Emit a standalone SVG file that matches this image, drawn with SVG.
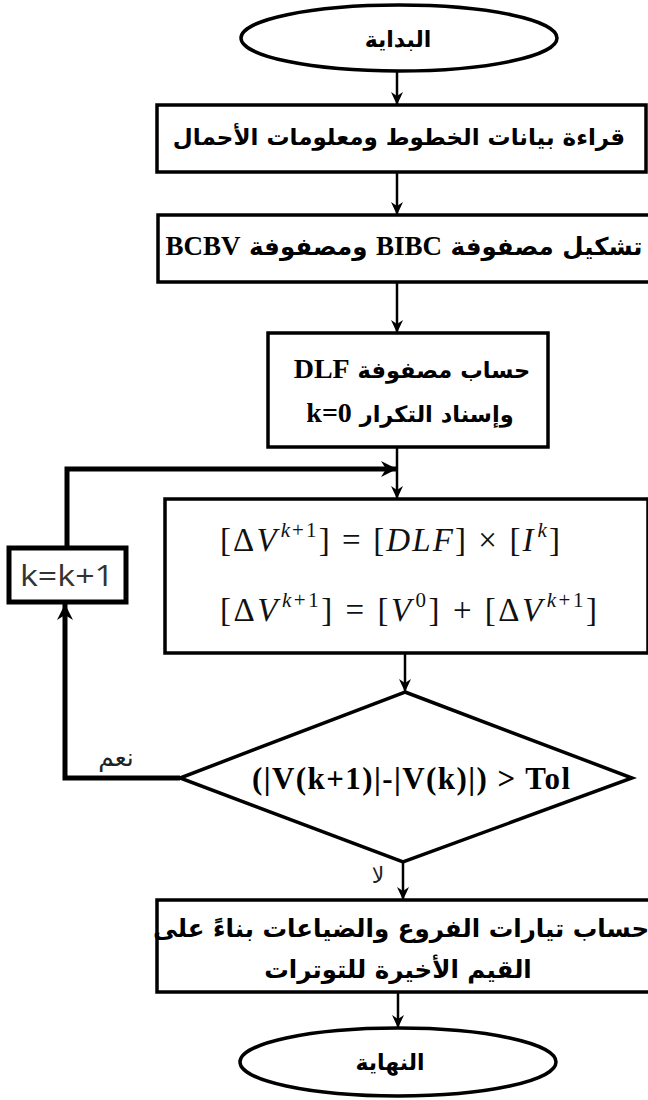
<svg xmlns="http://www.w3.org/2000/svg" width="648" height="1100" viewBox="0 0 648 1100">
<defs>
<style>
.shape{fill:#fff;stroke:#000;stroke-width:3.5}
.thick{fill:#fff;stroke:#000;stroke-width:5}
.conn{fill:none;stroke:#000;stroke-width:2.5}
.loop{fill:none;stroke:#000;stroke-width:5}
.ar{font-family:"DejaVu Sans",sans-serif;font-weight:bold;fill:#000}
.lat{font-family:"Liberation Serif",serif;font-weight:bold}
.eq{font-family:"Liberation Serif","DejaVu Serif",serif;fill:#111}
.it{font-style:italic}
.lbl{font-family:"DejaVu Sans",sans-serif;fill:#222}
</style>
<marker id="ah" markerUnits="userSpaceOnUse" markerWidth="14" markerHeight="14" viewBox="0 0 14 14" refX="13" refY="7" orient="auto">
<path d="M0,1 L13,7 L0,13 L4,7 Z" fill="#000"/>
</marker>
<marker id="ahb" markerUnits="userSpaceOnUse" markerWidth="20" markerHeight="20" viewBox="0 0 20 20" refX="18" refY="10" orient="auto">
<path d="M2,2 L18,10 L2,18 L7,10 Z" fill="#000"/>
</marker>
</defs>
<g id="connectors">
<line class="conn" x1="397" y1="72" x2="397" y2="105" marker-end="url(#ah)"/>
<line class="conn" x1="397" y1="172" x2="397" y2="215" marker-end="url(#ah)"/>
<line class="conn" x1="397" y1="282" x2="397" y2="333" marker-end="url(#ah)"/>
<line class="conn" x1="397" y1="447" x2="397" y2="499" marker-end="url(#ah)"/>
<polyline class="loop" points="67,547 67,469 397,469" marker-end="url(#ahb)"/>
<line class="conn" x1="405" y1="653" x2="405" y2="692" marker-end="url(#ah)"/>
<polyline class="loop" points="180,778 65,778 65,604" marker-end="url(#ahb)"/>
<line class="conn" x1="403" y1="862" x2="403" y2="900" marker-end="url(#ah)"/>
<line class="conn" x1="398" y1="992" x2="398" y2="1028" marker-end="url(#ah)"/>
<text class="lbl" x="116" y="766" text-anchor="middle" direction="rtl" style="font-size:25px">نعم</text>
<text class="lbl" x="378" y="883" text-anchor="middle" direction="rtl" style="font-size:22px">لا</text>
</g>
<g id="start">
<ellipse class="shape" cx="399" cy="38" rx="158" ry="33"/>
<text class="ar" x="398" y="47" text-anchor="middle" direction="rtl" style="font-size:22px">البداية</text>
</g>
<g id="read">
<rect class="shape" x="157" y="105" width="489" height="67"/>
<text class="ar" x="399" y="145" text-anchor="middle" direction="rtl" style="font-size:23px">قراءة بيانات الخطوط ومعلومات الأحمال</text>
</g>
<g id="matrices">
<rect class="shape" x="158" y="215" width="494" height="67"/>
<text class="ar" x="404" y="255" text-anchor="middle" direction="rtl" style="font-size:24.5px">تشكيل مصفوفة <tspan class="lat" style="font-size:27px">BIBC</tspan> ومصفوفة <tspan class="lat" style="font-size:27px">BCBV</tspan></text>
</g>
<g id="dlf">
<rect class="shape" x="268" y="333" width="280" height="114"/>
<text class="ar" x="412" y="378" text-anchor="middle" direction="rtl" style="font-size:22.5px">حساب مصفوفة <tspan class="lat" style="font-size:28px">DLF</tspan></text>
<text class="ar" x="410" y="422" text-anchor="middle" direction="rtl" style="font-size:22.5px">وإسناد التكرار <tspan class="lat" style="font-size:28px">k=0</tspan></text>
</g>
<g id="kinc">
<rect class="thick" x="9" y="548" width="117" height="54"/>
<text x="67" y="586" text-anchor="middle" font-family="'Open Sans',sans-serif" style="font-size:30px" fill="#333" textLength="94" lengthAdjust="spacingAndGlyphs">k=k+1</text>
</g>
<g id="equations">
<rect class="shape" x="165" y="499" width="483" height="154"/>
<text class="eq" x="220" y="551" style="font-size:33px" textLength="340" lengthAdjust="spacing">[Δ<tspan class="it">V</tspan><tspan class="it" dx="2" dy="-14" style="font-size:21px">k</tspan><tspan style="font-size:21px">+1</tspan><tspan dy="14">] = [</tspan><tspan class="it">DLF</tspan>] × [<tspan class="it">I</tspan><tspan class="it" dx="2" dy="-14" style="font-size:21px">k</tspan><tspan dy="14">]</tspan></text>
<text class="eq" x="220" y="621" style="font-size:33px" textLength="377" lengthAdjust="spacing">[Δ<tspan class="it">V</tspan><tspan class="it" dx="2" dy="-14" style="font-size:21px">k</tspan><tspan style="font-size:21px">+1</tspan><tspan dy="14">] = [</tspan><tspan class="it">V</tspan><tspan dx="2" dy="-14" style="font-size:21px">0</tspan><tspan dy="14">] + [Δ</tspan><tspan class="it">V</tspan><tspan class="it" dx="2" dy="-14" style="font-size:21px">k</tspan><tspan style="font-size:21px">+1</tspan><tspan dy="14">]</tspan></text>
</g>
<g id="decision">
<polygon class="shape" points="405,692 632,778 403,862 180,778"/>
<text x="252" y="789" font-family="'Liberation Serif',serif" font-weight="bold" style="font-size:31px" textLength="318" lengthAdjust="spacing">(|V(k+1)|-|V(k)|) &gt; Tol</text>
</g>
<g id="losses">
<rect class="shape" x="157" y="900" width="495" height="92"/>
<text class="ar" x="401" y="937" text-anchor="middle" direction="rtl" style="font-size:24.5px">حساب تيارات الفروع والضياعات بناءً على</text>
<text class="ar" x="398" y="978" text-anchor="middle" direction="rtl" style="font-size:24.5px">القيم الأخيرة للتوترات</text>
</g>
<g id="end">
<ellipse class="shape" cx="398" cy="1062" rx="158" ry="34"/>
<text class="ar" x="390" y="1070" text-anchor="middle" direction="rtl" style="font-size:22px">النهاية</text>
</g>
</svg>
